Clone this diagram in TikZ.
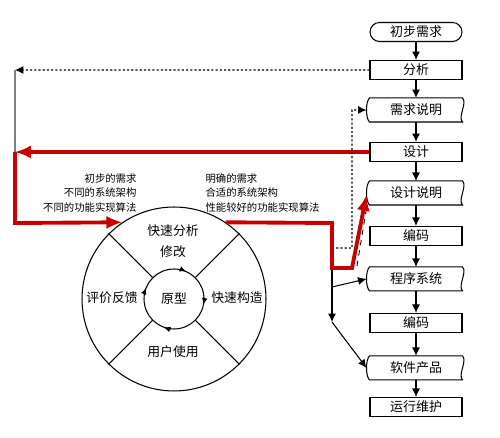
\documentclass[tikz,border=0pt]{standalone}
\usepackage{fontspec}
\newfontfamily\cjk{Noto Sans CJK SC}
\usepackage{tikz}
\usetikzlibrary{calc, arrows, arrows.meta, positioning}
\definecolor{flowred}{RGB}{200,0,0}
\tikzstyle{blk}=[draw, rectangle, minimum width=1.84cm, minimum height=0.38cm, inner sep=0pt, font=\cjk\fontsize{7.4}{9}\selectfont]
\tikzstyle{term}=[blk, rounded corners=0.19cm]
\tikzstyle{doc}=[blk, draw=none, minimum height=0.46cm]
\tikzstyle{note}=[font=\cjk\fontsize{5.9}{8.2}\selectfont, inner sep=0pt]
\tikzstyle{lbl}=[font=\cjk\fontsize{7.3}{9}\selectfont, inner sep=0pt]
\tikzstyle{back}=[line width=2.2pt, flowred, -{Latex[length=9pt,width=7.5pt]}]
\tikzstyle{dots}=[dash pattern=on 1.2pt off 1.2pt]

\begin{document}
\begin{tikzpicture}[x=0.02cm,y=0.02cm,node distance=0.82cm,>={Latex[length=4.8pt,width=4.6pt]},line width=0.6pt]
  \useasboundingbox (0,0) rectangle (500,438);
  % main flow on the right
  \node [term] (init) at (416,406) {初步需求};
  \node [blk] (fenxi) [below of=init, node distance=0.76cm] {分析};
  \node [doc] (xqsm) [below of=fenxi, node distance=0.8cm] {需求说明};
  \node [blk] (sheji) [below of=xqsm, node distance=0.84cm] {设计};
  \node [doc] (sjsm) [below of=sheji] {设计说明};
  \node [blk] (bm1) [below of=sjsm, node distance=0.86cm] {编码};
  \node [doc] (cxxt) [below of=bm1, node distance=0.86cm] {程序系统};
  \node [blk] (bm2) [below of=cxxt, node distance=0.88cm] {编码};
  \node [doc] (rjcp) [below of=bm2, node distance=0.9cm] {软件产品};
  \node [blk] (yxwh) [below of=rjcp, node distance=0.78cm] {运行维护};
  \foreach \n in {xqsm,sjsm,cxxt,rjcp}
    \draw (\n.north west) .. controls +(-4,-4) and +(-4,4) .. (\n.south west)
      -- (\n.south east) .. controls +(-5,5) and +(5,-5) .. (\n.north east) -- cycle;
  \foreach \a/\b in {init/fenxi,fenxi/xqsm,xqsm/sheji,sheji/sjsm,sjsm/bm1,bm1/cxxt,cxxt/bm2,bm2/rjcp,rjcp/yxwh}
    \draw[->] (\a) -- (\b);

  % prototype wheel
  \node [circle, draw, minimum size=3.68cm] (outer) at (174,139) {};
  \node [circle, draw, minimum size=1.2cm, lbl] (inner) at (174,139) {原型};
  \foreach \a in {45,135,225,315}
    \draw (inner.\a) -- (outer.\a);
  \foreach \a in {66,-11,-110,158}
    \draw[-{Latex[length=3.8pt,width=3.2pt]}] ([shift={(\a+14:30)}]174,139) arc[start angle=\a+14, end angle=\a, radius=30];
  \node [lbl] (fa) at (173,207) {快速分析};
  \node [lbl] (xg) at (173,186) {修改};
  \node [lbl] (pj) at (112,140) {评价反馈};
  \node [lbl] (gz) at (237,140) {快速构造};
  \node [lbl] (sy) at (173,86) {用户使用};
  \node [note, anchor=east, align=right] (ltxt) at (137,245) {初步的需求\\不同的系统架构\\不同的功能实现算法};
  \node [note, anchor=west, align=left] (rtxt) at (205,245) {明确的需求\\合适的系统架构\\性能较好的功能实现算法};

  % feedback lines on the left
  \coordinate (lt) at (15,368);
  \coordinate (lm) at (15,286);
  \coordinate (lb) at (15,215);
  \draw[dots,->] (fenxi.west) -- (lt);
  \draw[gray] (lt) -- (lm);
  \draw[back] (sheji.west) -- (lm);
  \draw[back] (lm) -- (lb) -- (outer.124);

  % lines between wheel and flow
  \coordinate (jt) at (332,215);
  \coordinate (jb) at (332,170);
  \coordinate (jr) at (352,170);
  \coordinate (sjin) at ($(sjsm.west)+(-3,-2)$);
  \coordinate (dsa) at (357,172);
  \coordinate (dsb) at (367,233);
  \coordinate (dl) at (332,190);
  \coordinate (dr) at (352,190);
  \coordinate (dt) at (352,328);
  \coordinate (kb) at (332,116);
  \coordinate (br) at (332,151);
  \draw[->] (jt) -- (kb);
  \draw[->] (kb) -- ($(rjcp.west)+(-3,0)$);
  \draw[->] (br) -- ($(cxxt.west)+(-3,0)$);
  \draw[dots,->] (dl) -- (dr) -- (dt) -- ($(xqsm.west)+(-3,0)$);
  \draw[dashed, line width=0.5pt] (dsa) -- (dsb);
  \draw[back] (outer.56) -- (jt) -- (jb) -- (jr) -- (sjin);
\end{tikzpicture}
\end{document}
